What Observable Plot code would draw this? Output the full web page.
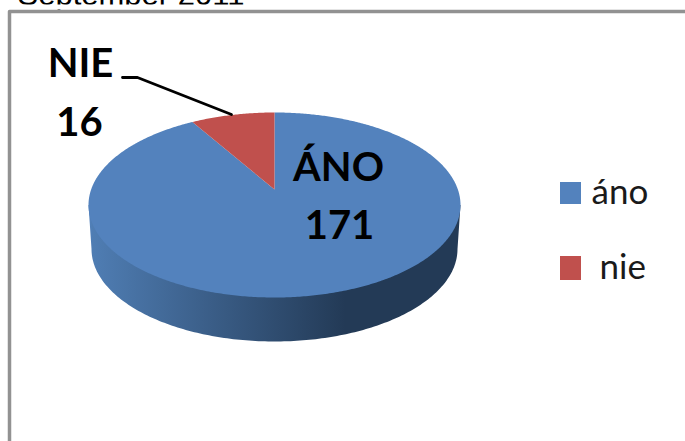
<!DOCTYPE html>
<html>
<head>
<meta charset="utf-8">
<script src="https://cdn.jsdelivr.net/npm/d3@7"></script>
<script src="https://cdn.jsdelivr.net/npm/@observablehq/plot@0.6"></script>
<style>
html,body{margin:0;padding:0;background:#fff;overflow:hidden}
svg{display:block}
</style>
</head>
<body>
<div id="chart"></div>
<script>
const categories = ["áno", "nie"];
const values = [171, 16];
const calloutNames = ["ÁNO", "NIE"];
const colors = ["#5382bd", "#c0504d"];
const titleText = "September 2011";

// layout of the drawing (pixels of the 685x441 frame)
const W = 685, H = 441;
const pie = {cx: 274, cy: 204.5, rx: 186, ry: 92.5, apexLift: 15.5, depth: 44, bottomRx: 183};

// Perspective mapping of the unit disc: the pie centre lands above the ellipse centre
const k = pie.apexLift / pie.ry;
function project(angle) {
  const u = Math.sin(angle), v = Math.cos(angle), d = 1 + k * v;
  return {
    x: pie.cx + pie.rx * u * Math.sqrt(1 - k * k) / d,
    y: pie.cy - pie.ry * (v + k) / d
  };
}
const total = d3.sum(values);
// "ano" runs clockwise from 12 o'clock; "nie" closes the circle
const slices = [];
let start = 0;
values.forEach((val, i) => {
  const end = start + val / total * 2 * Math.PI;
  const pts = [{x: pie.cx, y: pie.cy - pie.apexLift}];
  const n = Math.ceil((end - start) / 0.01);
  for (let j = 0; j <= n; j++) pts.push(project(start + (end - start) * j / n));
  pts.push(pts[0]);
  slices.push({category: categories[i], color: colors[i], pts});
  start = end;
});

// Cylinder side: shoulders at the widest points of the top, lower rim below
const side = [{x: pie.cx - pie.rx, y: pie.cy}, {x: pie.cx + pie.rx, y: pie.cy}];
for (let j = 0; j <= 180; j++) {
  const a = j / 180 * Math.PI;
  side.push({
    x: pie.cx + pie.bottomRx * Math.cos(a),
    y: pie.cy + pie.depth + pie.ry * Math.sin(a)
  });
}

const border = [{x: 9, y: H}, {x: 9, y: 11}, {x: W, y: 11}];
const leader = [{x: 122, y: 77}, {x: 137, y: 77}, {x: 231, y: 114}];

const callouts = [
  {t: calloutNames[1], x: 80, y: 76},
  {t: String(values[1]), x: 79, y: 135},
  {t: calloutNames[0], x: 338, y: 180},
  {t: String(values[0]), x: 339, y: 238}
];
const legend = [
  {t: categories[0], c: colors[0], x1: 560, x2: 581, y1: 182, y2: 204, tx: 591, ty: 203},
  {t: categories[1], c: colors[1], x1: 560, x2: 581, y1: 256, y2: 280, tx: 599, ty: 278}
];

const chart = Plot.plot({
  width: W, height: H,
  margin: 0,
  style: {background: "#fff", overflow: "hidden"},
  x: {domain: [0, W], range: [0, W], axis: null},
  y: {domain: [0, H], range: [0, H], axis: null},
  marks: [
    Plot.text([titleText], {x: 17, y: 4, text: d => d, textAnchor: "start", lineAnchor: "bottom",
      fontFamily: "Liberation Sans", fontSize: 31, fill: "#000"}),
    // the reference photograph is cropped just under the title's baseline
    Plot.rect([0], {x1: 0, x2: W, y1: 4.5, y2: 9.5, fill: "#fff"}),
    Plot.line(border, {x: "x", y: "y", stroke: "#929292", strokeWidth: 3.5}),
    Plot.line(side, {x: "x", y: "y", fill: "url(#sideGrad)", stroke: "none"}),
    ...slices.map(s => Plot.line(s.pts, {x: "x", y: "y", fill: s.color, stroke: "none"})),
    Plot.line(leader, {x: "x", y: "y", stroke: "#000", strokeWidth: 2.8}),
    Plot.text(callouts, {x: "x", y: "y", text: "t", lineAnchor: "bottom", textAnchor: "middle",
      fontFamily: "Lato", fontWeight: 700, fontSize: 40, fill: "#000"}),
    Plot.rect(legend, {x1: "x1", x2: "x2", y1: "y1", y2: "y2", fill: "c"}),
    Plot.text(legend, {x: "tx", y: "ty", text: "t", textAnchor: "start", lineAnchor: "bottom",
      fontFamily: "Lato", fontSize: 35, fill: "#1a1a1a"})
  ]
});

// side gradient
const ns = "http://www.w3.org/2000/svg";
const defs = document.createElementNS(ns, "defs");
const grad = document.createElementNS(ns, "linearGradient");
grad.setAttribute("id", "sideGrad");
grad.setAttribute("gradientUnits", "userSpaceOnUse");
grad.setAttribute("x1", pie.cx - pie.rx); grad.setAttribute("y1", 0);
grad.setAttribute("x2", 345); grad.setAttribute("y2", 0);
[["0", "#5382bd"], ["0.015", "#4f7db3"], ["1", "#233a56"]].forEach(([o, c]) => {
  const s = document.createElementNS(ns, "stop");
  s.setAttribute("offset", o); s.setAttribute("stop-color", c);
  grad.appendChild(s);
});
defs.appendChild(grad);
chart.insertBefore(defs, chart.firstChild);
document.getElementById("chart").appendChild(chart);
</script>
</body>
</html>
